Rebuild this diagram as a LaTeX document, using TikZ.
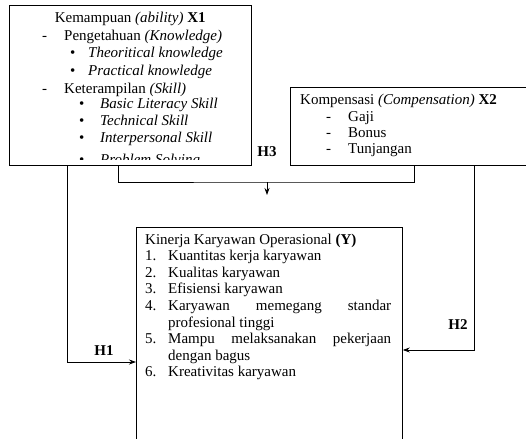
\documentclass[tikz,border=0pt]{standalone}
\usepackage{fontspec}
\setmainfont{Liberation Serif}
\usetikzlibrary{calc, arrows.meta, positioning}

% list lines inside the boxes
\newcommand{\dashline}[2]{\noindent\hspace*{#1}\makebox[22pt][l]{-}#2}
\newcommand{\dotline}[3]{\noindent\hspace*{#1}\makebox[#2][l]{\textbullet}\textit{#3}}
\newcommand{\numline}[2]{\hangindent=23pt\hangafter=1\noindent\makebox[23pt][l]{#1}#2}

\tikzset{
  varbox/.style={draw, line width=0.8pt, rectangle, inner sep=0pt, anchor=north west},
  boxtext/.style={inner sep=0pt, anchor=base west, text width=#1, align=justify},
  hyp/.style={font=\fontsize{15}{17}\selectfont\bfseries, inner sep=0pt},
  link/.style={line width=0.8pt},
}

\begin{document}
\begin{tikzpicture}[x=1pt, y=-1pt, >={Stealth[length=7pt,width=5pt]},
  font=\fontsize{15}{17}\selectfont]

  \clip (0,0) rectangle (526,438);

  % Boxes of the three variables
  \node[varbox, minimum width=242, minimum height=160] (ability) at (9,5) {};
  \node[varbox, minimum width=240, minimum height=78] (comp) at (290,87) {};
  \node[varbox, minimum width=266, minimum height=216] (perf) at (136,227) {};

  % X1 text (last line is cut off inside the box)
  \node[boxtext=242pt, font=\fontsize{15}{17.75}\selectfont] (abilitytext)
    at ($(ability.north west)+(0,17.5)$) {%
    \makebox[242pt][c]{Kemampuan \textit{(ability)} \textbf{X1}}\par
    \dashline{33pt}{Pengetahuan \textit{(Knowledge)}}\par
    \dotline{61pt}{18pt}{Theoritical knowledge}\par
    \dotline{61pt}{18pt}{Practical knowledge}\par
    \dashline{33pt}{Keterampilan \textit{(Skill)}}};
  \begin{scope}
    \clip (ability.north west) rectangle ([yshift=6pt]ability.south east);
    \node[boxtext=242pt, font=\fontsize{15}{16.7}\selectfont] (skilltext)
      at ($(ability.north west)+(0,104)$) {%
      \dotline{70pt}{21pt}{Basic Literacy Skill}\par
      \dotline{70pt}{21pt}{Technical Skill}\par
      \dotline{70pt}{21pt}{Interpersonal Skill}\par
      \vspace{5pt}%
      \dotline{70pt}{21pt}{Problem Solving}};
  \end{scope}

  % X2 text
  \node[boxtext=230pt, font=\fontsize{15}{16.2}\selectfont] (comptext)
    at ($(comp.north west)+(10,18)$) {%
    Kompensasi \textit{(Compensation)} \textbf{X2}\par
    \dashline{26pt}{Gaji}\par
    \dashline{26pt}{Bonus}\par
    \dashline{26pt}{Tunjangan}};

  % Y text
  \node[boxtext=246pt, font=\fontsize{15}{16.6}\selectfont] (perftext)
    at ($(perf.north west)+(9,17)$) {%
    \noindent Kinerja Karyawan Operasional \textbf{(Y)}\par
    \numline{1.}{Kuantitas kerja karyawan}\par
    \numline{2.}{Kualitas karyawan}\par
    \numline{3.}{Efisiensi karyawan}\par
    \numline{4.}{Karyawan memegang standar\linebreak profesional tinggi}\par
    \numline{5.}{Mampu melaksanakan pekerjaan\linebreak dengan bagus}\par
    \numline{6.}{Kreativitas karyawan}\par};

  % Hypothesis paths
  \coordinate (h3join) at (267,182);
  \coordinate (h3tip) at (267,195);
  \draw[link] ([xshift=109pt]ability.south west) |- (h3join) -| ([xshift=124pt]comp.south west);
  \draw[link, ->] (h3join) -- (h3tip);
  \draw[link, ->] ([xshift=58pt]ability.south west) |- ([yshift=-135pt]perf.north west);
  \draw[link, ->] ([xshift=184pt]comp.south west) |- ([yshift=-123pt]perf.north east);

  \node[hyp] (h3) at (267,152) {H3};
  \node[hyp] (h2) at (458,325) {H2};
  \node[hyp] (h1) at (104,351) {H1};
\end{tikzpicture}
\end{document}
